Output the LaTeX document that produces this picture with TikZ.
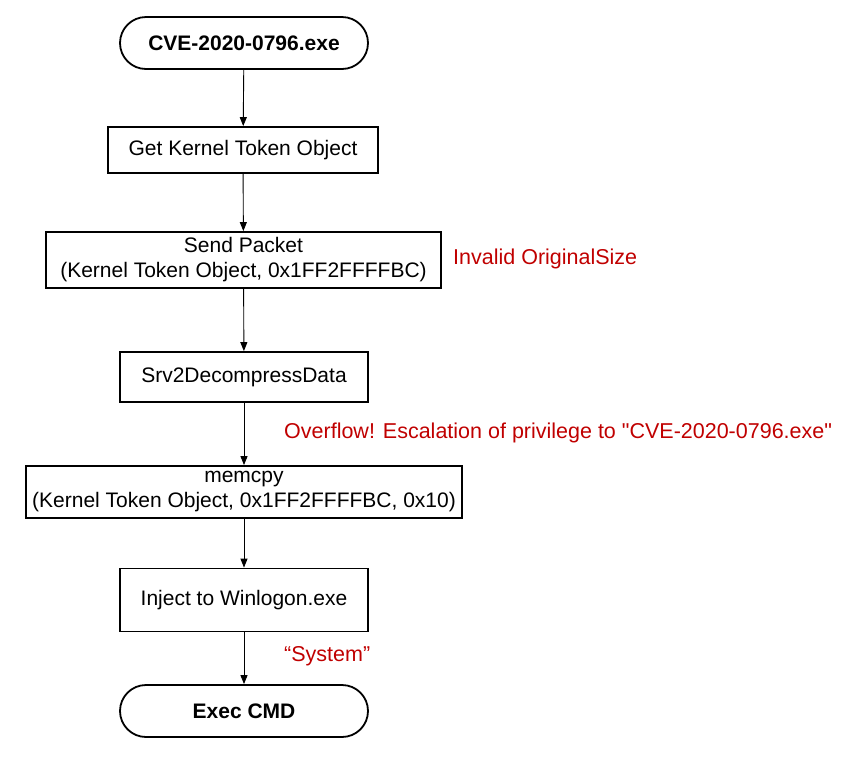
\documentclass[tikz,border=0pt]{standalone}
\usepackage{fontspec}
\setmainfont{Liberation Sans}[Ligatures=TeXOff]
\usetikzlibrary{arrows.meta}
\definecolor{redtxt}{RGB}{192,0,0}
\begin{document}
\begin{tikzpicture}[x=1pt,y=-1pt,
  every node/.style={font=\fontsize{21}{25}\selectfont, inner sep=0pt, align=center},
  procbox/.style={draw, line width=1.8pt, rectangle},
  termbox/.style={draw, line width=1.8pt, rectangle, rounded corners=26pt, font=\fontsize{21}{25}\selectfont\bfseries},
  flow/.style={line width=0.9pt, -{Triangle[length=9pt,width=7pt]}},
  note/.style={text=redtxt, anchor=west, font=\fontsize{21.5}{25}\selectfont}]
\useasboundingbox (0,0) rectangle (852,756);
\node[termbox, minimum width=248pt, minimum height=52pt] (start) at (244,43) {CVE-2020-0796.exe};
\node[procbox, minimum width=270pt, minimum height=46pt] (tok) at (243,150) {Get Kernel Token Object};
\node[procbox, minimum width=395pt, minimum height=56pt] (send) at (243.5,260) {Send Packet\\(Kernel Token Object, 0x1FF2FFFFBC)};
\node[procbox, minimum width=248pt, minimum height=50pt] (srv) at (244,377) {Srv2DecompressData};
\node[procbox, minimum width=436pt, minimum height=52pt] (mem) at (244,492) {memcpy\\(Kernel Token Object, 0x1FF2FFFFBC, 0x10)};
\node[procbox, minimum width=248pt, minimum height=63pt] (inj) at (244,600) {Inject to Winlogon.exe};
\node[termbox, minimum width=248pt, minimum height=52pt] (exec) at (244,711) {Exec CMD};
\node[note] (n1) at (453,259) {Invalid OriginalSize};
\node[note] (n2) at (284,433) {Overflow! Escalation of privilege to "CVE-2020-0796.exe"};
\node[note] (n3) at (284,656) {“System”};
\draw[flow] (start) -- (tok);
\draw[flow] (tok) -- (send);
\draw[flow] (send) -- (srv);
\draw[flow] (srv) -- (mem);
\draw[flow] (mem) -- (inj);
\draw[flow] (inj) -- (exec);
\end{tikzpicture}
\end{document}
